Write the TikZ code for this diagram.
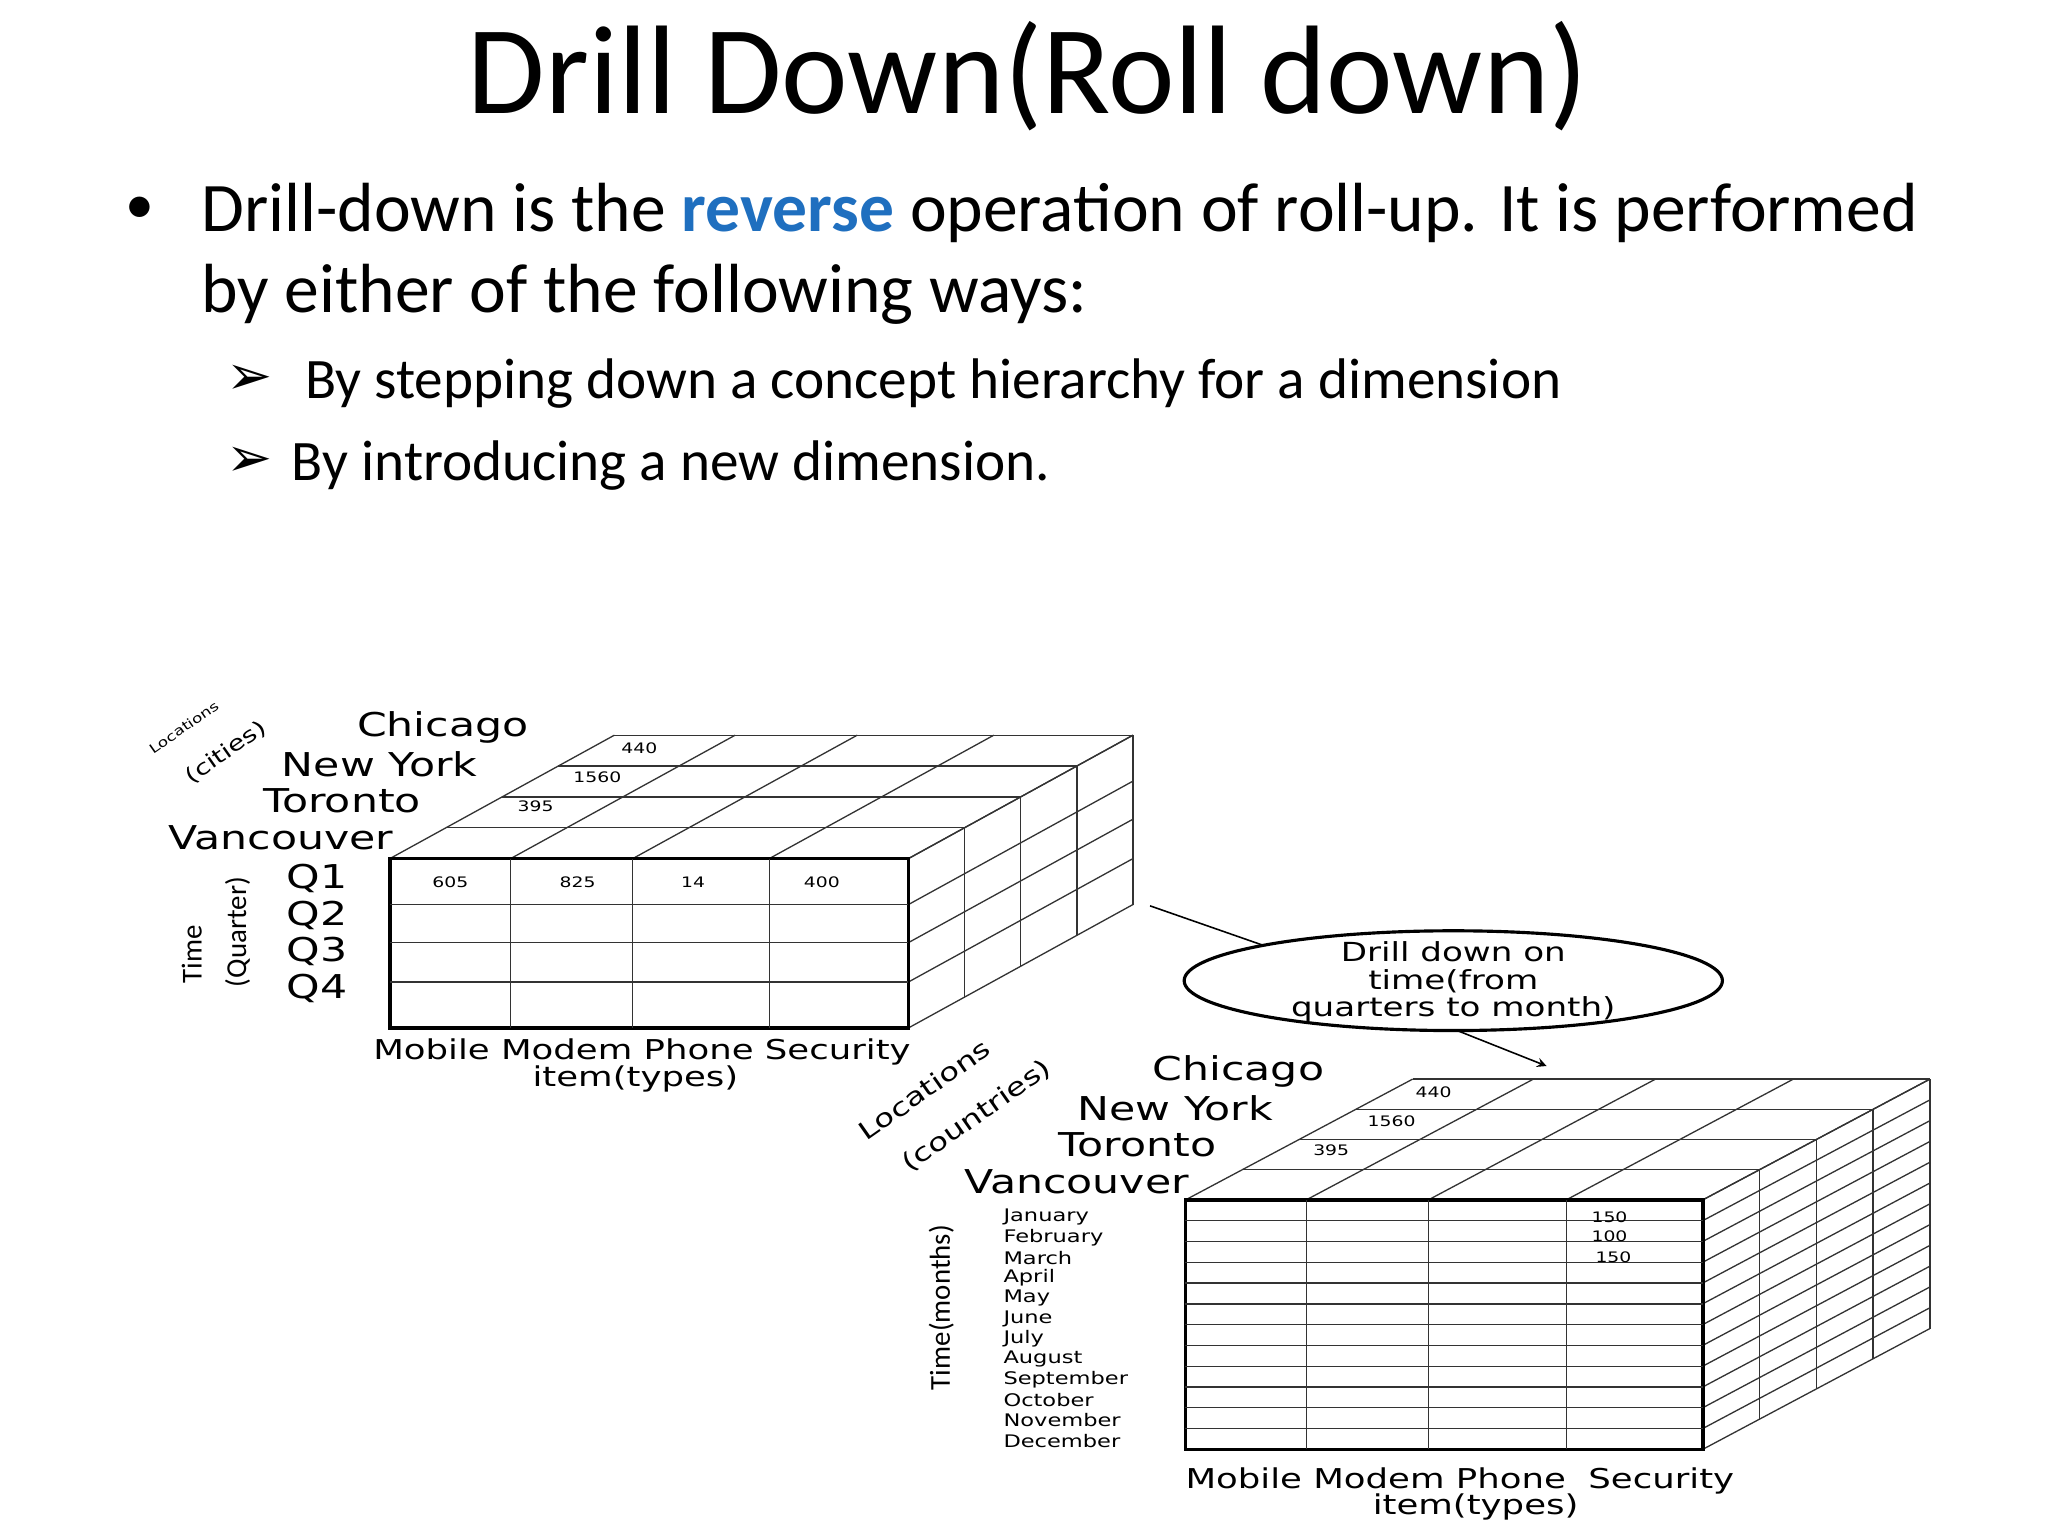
\documentclass[tikz,border=0pt]{standalone}
\usepackage{fontspec}
\setmainfont{Carlito}
\newfontfamily\cube[FakeStretch=1.3]{DejaVu Sans}
\newfontfamily\sym{DejaVu Sans}
\begin{document}
\begin{tikzpicture}[x=0.5pt,y=-0.5pt,
  lbl/.style={font=\cube\fontsize{12.5}{13}\selectfont,anchor=east,inner sep=0},
  num/.style={font=\cube\fontsize{5.5}{6}\selectfont,inner sep=0},
  mon/.style={font=\cube\fontsize{6.6}{7}\selectfont,anchor=west,inner sep=0},
  grid/.style={line width=0.5pt,black!80},
  thick face/.style={line width=1.4pt}]
\useasboundingbox (0,0) rectangle (1560,1170);
\node (title) at (783,58) {\fontsize{48}{52}\selectfont Drill Down(Roll down)};
\node[anchor=west,inner sep=0] (b) at (95,160) {\fontsize{22}{26}\selectfont •};
\node[anchor=west,inner sep=0] (l1) at (153,162) {\fontsize{26.5}{28}\selectfont Drill-down is the \textcolor[HTML]{1F6FBF}{\bfseries reverse} operation of roll-up. It is performed};
\node[anchor=west,inner sep=0] (l2) at (153,224) {\fontsize{26.5}{28}\selectfont by either of the following ways:};
\node[anchor=west,inner sep=0] (a1) at (172,289) {\sym\fontsize{21}{24}\selectfont ➢};
\node[anchor=west,inner sep=0] (s1) at (232,292) {\fontsize{21.8}{24}\selectfont By stepping down a concept hierarchy for a dimension};
\node[anchor=west,inner sep=0] (a2) at (172,352) {\sym\fontsize{21}{24}\selectfont ➢};
\node[anchor=west,inner sep=0] (s2) at (222,355) {\fontsize{21.8}{24}\selectfont By introducing a new dimension.};

% ---------- cube 1 ----------
\def\dx{171}\def\dy{-94}
\foreach \i in {0,1,2,3,4}{
  \draw[grid] ({297+\i*\dx/4},{654+\i*\dy/4}) -- ({692+\i*\dx/4},{654+\i*\dy/4});}
\foreach \x in {297,389,482,586,692}{
  \draw[grid] (\x,654) -- ({\x+\dx},{654+\dy});}
\foreach \i in {1,2,3,4}{
  \draw[grid] ({692+\i*\dx/4},{654+\i*\dy/4}) -- ({692+\i*\dx/4},{783+\i*\dy/4});}
\foreach \y in {654,689,718,748,783}{
  \draw[grid] (692,\y) -- ({692+\dx},{\y+\dy});}
\draw[thick face] (297,654) rectangle (692,783);
\foreach \x in {389,482,586}{\draw[grid] (\x,654) -- (\x,783);}
\foreach \y in {689,718,748}{\draw[grid] (297,\y) -- (692,\y);}
\node[num] at (343,672) {605};\node[num] at (440,672) {825};
\node[num] at (528,672) {14};\node[num] at (626,672) {400};
\node[num] at (487,570) {440};\node[num] at (455,592) {1560};\node[num] at (408,614) {395};
\node[lbl] at (403,554) {Chicago};\node[lbl] at (364,582) {New York};
\node[lbl] at (321,610) {Toronto};\node[lbl] at (300,638) {Vancouver};
\node[lbl] at (265,669) {Q1};\node[lbl] at (265,697) {Q2};
\node[lbl] at (265,725) {Q3};\node[lbl] at (265,753) {Q4};
\node[rotate=35,font=\cube\fontsize{5}{6}\selectfont,inner sep=0] at (140,554) {Locations};
\node[rotate=35,font=\cube\fontsize{8}{9}\selectfont,inner sep=0] at (172,573) {(cities)};
\node[rotate=90,font=\fontsize{11}{12}\selectfont,inner sep=0] at (146,727) {Time};
\node[rotate=90,font=\fontsize{11}{12}\selectfont,inner sep=0] at (181,710) {(Quarter)};
\node[font=\cube\fontsize{10.4}{11}\selectfont,inner sep=0] at (489,801) {Mobile Modem Phone Security};
\node[font=\cube\fontsize{10.4}{11}\selectfont,inner sep=0] at (484,822) {item(types)};

% ---------- callout ----------
\draw[line width=1.2pt] (1107,747) ellipse [x radius=205,y radius=38];
\node[font=\cube\fontsize{10}{10.5}\selectfont,align=center,inner sep=0] (ell) at (1107,748) {Drill down on\\time(from\\quarters to month)};
\coordinate (c1) at (876,690);\coordinate (c2) at (962,720);
\draw[line width=0.6pt] (c1) -- (c2);
\coordinate (c3) at (1110,785);\coordinate (c4) at (1178,812);
\draw[line width=0.6pt,-stealth] (c3) -- (c4);

% ---------- cube 2 ----------
\def\ex{173}\def\ey{-92}
\foreach \i in {0,1,2,3,4}{
  \draw[grid] ({903+\i*\ex/4},{914+\i*\ey/4}) -- ({1297+\i*\ex/4},{914+\i*\ey/4});}
\foreach \x in {903,995,1088,1193,1297}{
  \draw[grid] (\x,914) -- ({\x+\ex},{914+\ey});}
\foreach \i in {1,2,3,4}{
  \draw[grid] ({1297+\i*\ex/4},{914+\i*\ey/4}) -- ({1297+\i*\ex/4},{1104+\i*\ey/4});}
\foreach \k in {0,...,12}{
  \draw[grid] (1297,{914+\k*190/12}) -- ({1297+\ex},{914+\k*190/12+\ey});}
\draw[thick face] (903,914) rectangle (1297,1104);
\foreach \x in {995,1088,1193}{\draw[grid] (\x,914) -- (\x,1104);}
\foreach \k in {1,...,11}{\draw[grid] (903,{914+\k*190/12}) -- (1297,{914+\k*190/12});}
\node[num] at (1226,927) {150};\node[num] at (1226,942) {100};\node[num] at (1229,958) {150};
\node[num] at (1092,832) {440};\node[num] at (1060,854) {1560};\node[num] at (1014,876) {395};
\node[lbl] at (1009,816) {Chicago};\node[lbl] at (970,844) {New York};
\node[lbl] at (927,872) {Toronto};\node[lbl] at (906,900) {Vancouver};
\node[rotate=35,font=\cube\fontsize{9.5}{10}\selectfont,inner sep=0] at (704,830) {Locations};
\node[rotate=35,font=\cube\fontsize{9.5}{10}\selectfont,inner sep=0] at (744,850) {(countries)};
\node[rotate=90,font=\fontsize{11}{12}\selectfont,inner sep=0] at (717,996) {Time(months)};
\foreach \m [count=\k from 0] in {January,February,March,April,May,June,July,August,September,October,November,December}{
  \node[mon] at (764,{927+\k*15.5}) {\m};}
\node[font=\cube\fontsize{10.4}{11}\selectfont,inner sep=0] at (1112,1128) {Mobile Modem Phone~ Security};
\node[font=\cube\fontsize{10.4}{11}\selectfont,inner sep=0] at (1124,1148) {item(types)};
\end{tikzpicture}
\end{document}
